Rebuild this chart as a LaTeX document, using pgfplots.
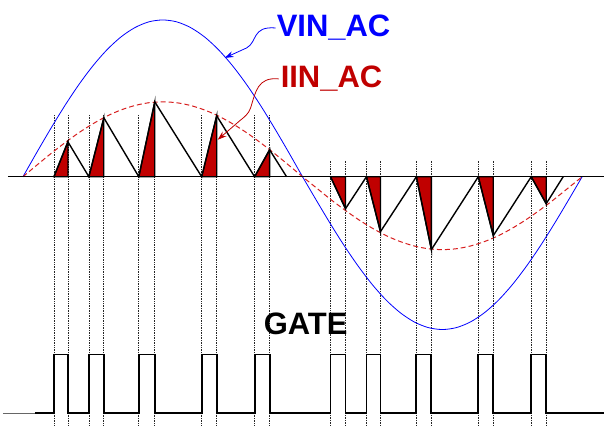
\documentclass[border=0pt]{standalone}
\usepackage{fontspec}
\setmainfont{Liberation Sans}
\usepackage{pgfplots}
\pgfplotsset{compat=1.18}
\usetikzlibrary{arrows.meta}
\definecolor{vblue}{RGB}{0,0,255}
\definecolor{ired}{RGB}{192,0,0}
\definecolor{dred}{RGB}{215,30,30}
\begin{document}
\begin{tikzpicture}
\begin{axis}[
    width=605bp, height=426bp, scale only axis,
    xmin=0, xmax=605, ymin=0, ymax=426,
    y dir=reverse, hide axis, clip=false,
    unbounded coords=jump,
]
\path (axis cs:0,0) rectangle (axis cs:605,426);

% dotted timing lines
\addplot[densely dotted, line width=0.7bp, black!85] coordinates {
  (54,115) (54,426) (nan,nan) (68,115) (68,426) (nan,nan)
  (89,115) (89,426) (nan,nan) (104,115) (104,426) (nan,nan)
  (139,115) (139,426) (nan,nan) (155,115) (155,426) (nan,nan)
  (202,115) (202,426) (nan,nan) (217,115) (217,426) (nan,nan)
  (255,115) (255,426) (nan,nan) (270,115) (270,426) (nan,nan)
  (331,161) (331,426) (nan,nan) (346,161) (346,426) (nan,nan)
  (367,161) (367,426) (nan,nan) (381,161) (381,426) (nan,nan)
  (417,161) (417,426) (nan,nan) (432,161) (432,426) (nan,nan)
  (479,161) (479,426) (nan,nan) (494,161) (494,426) (nan,nan)
  (532,161) (532,426) (nan,nan) (547,161) (547,426)
};

% VIN_AC
\addplot[vblue, line width=0.8bp, smooth] coordinates {
  (23,177) (37,152.4) (51,128.5) (65,105.7) (79,84.7) (93,66.0) (107,50.0)
  (121,37.1) (135,27.7) (149,21.9) (163,20) (177,21.9) (191,27.7) (205,37.1)
  (219,50.0) (233,66.0) (247,84.7) (261,105.7) (275,128.5) (289,152.4) (303,177)
  (317,200.9) (331,224.3) (345,246.5) (359,266.9) (373,285.2) (387,300.8)
  (401,313.3) (415,322.5) (429,328.1) (443,330) (457,328.1) (471,322.5)
  (485,313.3) (499,300.8) (513,285.2) (527,266.9) (541,246.5) (555,224.3)
  (569,200.9) (583,177)
};

% IIN_AC
\addplot[dred, line width=1bp, dash pattern=on 5bp off 3bp, smooth] coordinates {
  (23,177) (37,165.3) (51,153.8) (65,143.0) (79,132.9) (93,124.0) (107,116.3)
  (121,110.2) (135,105.7) (149,102.9) (163,102) (177,102.9) (191,105.7)
  (205,110.2) (219,116.3) (233,124.0) (247,132.9) (261,143.0) (275,153.8)
  (289,165.3) (303,177)
  (317,188.3) (331,199.6) (345,210.1) (359,219.9) (373,228.6) (387,236.1)
  (401,242.0) (415,246.4) (429,249.1) (443,250) (457,249.1) (471,246.4)
  (485,242.0) (499,236.1) (513,228.6) (527,219.9) (541,210.1) (555,199.6)
  (569,188.3) (583,177)
};

% switch-on intervals (filled)
\addplot[fill=ired, draw=black, line width=1.3bp] coordinates {(54,177) (68,142) (68,177)} --cycle;
\addplot[fill=ired, draw=black, line width=1.3bp] coordinates {(89,177) (104,118) (104,177)} --cycle;
\addplot[fill=ired, draw=black, line width=1.3bp] coordinates {(139,177) (155,102) (155,177)} --cycle;
\addplot[fill=ired, draw=black, line width=1.3bp] coordinates {(202,177) (217,116) (217,177)} --cycle;
\addplot[fill=ired, draw=black, line width=1.3bp] coordinates {(255,177) (270,150) (270,177)} --cycle;
\addplot[fill=ired, draw=black, line width=1.3bp] coordinates {(331,177) (346,209) (346,177)} --cycle;
\addplot[fill=ired, draw=black, line width=1.3bp] coordinates {(367,177) (381,232) (381,177)} --cycle;
\addplot[fill=ired, draw=black, line width=1.3bp] coordinates {(417,177) (432,250) (432,177)} --cycle;
\addplot[fill=ired, draw=black, line width=1.3bp] coordinates {(479,177) (494,236) (494,177)} --cycle;
\addplot[fill=ired, draw=black, line width=1.3bp] coordinates {(532,177) (547,204) (547,177)} --cycle;

% inductor current
\addplot[black, line width=1.4bp] coordinates {
  (54,177) (68,142) (89,177) (104,118) (139,177) (155,102) (202,177)
  (217,116) (255,177) (270,150) (287,177)
};
\addplot[black, line width=1.4bp] coordinates {
  (331,177) (346,209) (367,177) (381,232) (417,177) (432,250) (479,177)
  (494,236) (532,177) (547,204) (564,177)
};

% zero line
\addplot[black, line width=1.4bp] coordinates {(8,177) (605,177)};

% gate signal
\addplot[black!60, line width=0.8bp] coordinates {(3,414) (35,414)};
\addplot[black, line width=1.8bp] coordinates {
  (35,414) (54,414) (54,355) (68,355) (68,414) (89,414) (89,355) (104,355)
  (104,414) (139,414) (139,355) (155,355) (155,414) (202,414) (202,355)
  (217,355) (217,414) (255,414) (255,355) (270,355) (270,414) (331,414)
  (331,355) (346,355) (346,414) (367,414) (367,355) (381,355) (381,414)
  (417,414) (417,355) (432,355) (432,414) (479,414) (479,355) (494,355)
  (494,414) (532,414) (532,355) (547,355) (547,414) (605,414)
};

% labels
\node[anchor=base west, inner sep=0pt, text=vblue,
      font=\fontsize{31bp}{37bp}\selectfont\bfseries] at (axis cs:277,37) {VIN\_AC};
\node[anchor=base west, inner sep=0pt, text=ired,
      font=\fontsize{31bp}{37bp}\selectfont\bfseries] at (axis cs:281,88) {IIN\_AC};
\node[anchor=base west, inner sep=0pt, text=black,
      font=\fontsize{31bp}{37bp}\selectfont\bfseries] at (axis cs:264,335) {GATE};

\draw[vblue, line width=0.8bp, -{Stealth[length=9bp,width=6bp]}]
  (axis cs:276,28) .. controls (axis cs:252,26) and (axis cs:258,42) ..
  (axis cs:247,48) -- (axis cs:225,58);
\draw[ired, line width=0.8bp, -{Stealth[length=9bp,width=6bp]}]
  (axis cs:279,79) .. controls (axis cs:258,77) and (axis cs:256,92) ..
  (axis cs:251,108) .. controls (axis cs:249,114) and (axis cs:245,117) ..
  (axis cs:240,121) -- (axis cs:218,140);
\end{axis}
\end{tikzpicture}
\end{document}
